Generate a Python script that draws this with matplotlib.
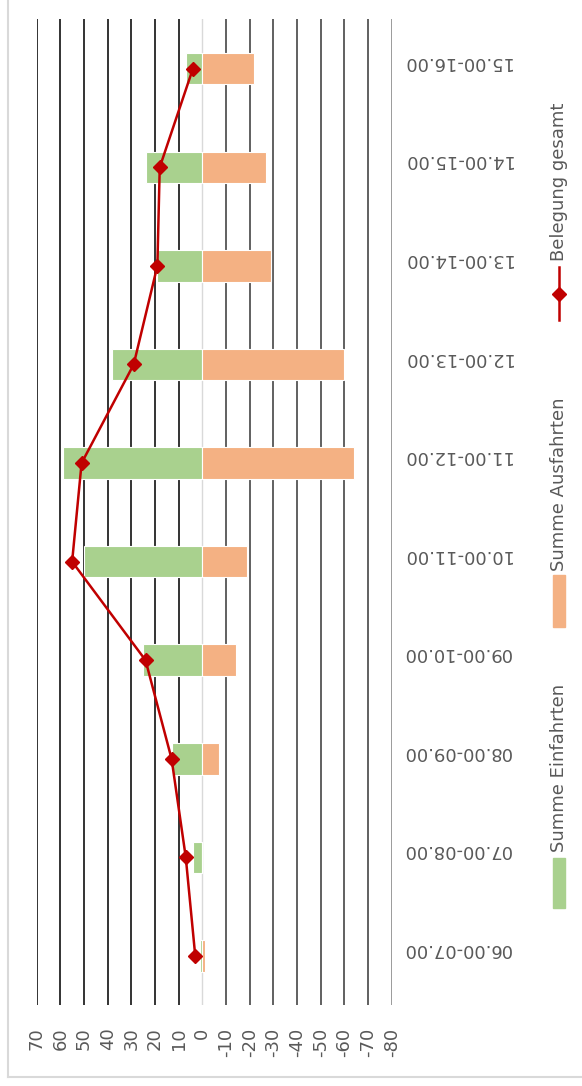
import numpy as np
import matplotlib
matplotlib.use("Agg")
import matplotlib.pyplot as plt
from matplotlib.lines import Line2D
from matplotlib.patches import Rectangle
from matplotlib.transforms import blended_transform_factory, ScaledTranslation

# data (chart is shown rotated: categories run bottom -> top)
zeiten = ["06.00-07.00", "07.00-08.00", "08.00-09.00", "09.00-10.00", "10.00-11.00",
          "11.00-12.00", "12.00-13.00", "13.00-14.00", "14.00-15.00", "15.00-16.00"]
einfahrten = [1, 4, 13, 25, 50, 59, 38, 19, 24, 7]
ausfahrten = [-1, 0, -7, -14, -19, -64, -60, -29, -27, -22]
belegung = [3, 7, 13, 24, 55, 51, 29, 19, 18, 4]
werte_ticks = list(range(-80, 71, 10))

W, H = 582, 1086
green = "#A9D18E"
orange = "#F4B183"
red = "#C00000"
txt = "#595959"

fig = plt.figure(figsize=(W / 100, H / 100), dpi=100)
ax = fig.add_axes([36.6 / W, 1 - 1005.3 / H, (391.8 - 36.6) / W, (1005.3 - 19.4) / H])

idx = np.arange(len(zeiten))

# gridlines
for t in werte_ticks:
    if t == 0:
        c, lw = "#d9d9d9", 1.0
    elif t > 0:
        c, lw = "#111111", 1.2
    elif t == -80:
        c, lw = "#8a8a8a", 1.2
    else:
        c, lw = "#606060", 1.4
    ax.axvline(t, color=c, lw=lw, zorder=0)

ax.barh(idx, einfahrten, height=0.32, color=green, edgecolor="white", lw=0.8, zorder=2)
ax.barh(idx, ausfahrten, height=0.32, color=orange, edgecolor="white", lw=0.8, zorder=2)
ax.plot(belegung, idx, color=red, lw=1.8, marker="D", ms=6.8, zorder=3)

ax.set_xlim(70, -80)
ax.set_ylim(-0.5, len(zeiten) - 0.5)
for s in ax.spines.values():
    s.set_visible(False)

ax.set_xticks(werte_ticks)
ax.set_xticklabels([str(t) for t in werte_ticks], rotation=90, fontsize=13, color=txt)
ax.tick_params(axis="x", length=0, pad=16)

# category labels, upside down, right of the plot
ax.set_yticks([])
tr = blended_transform_factory(ax.transAxes, ax.transData) + \
    ScaledTranslation(0, 5 / 72, fig.dpi_scale_trans)
for i, z in enumerate(zeiten):
    ax.text(1 + 11 / (391.8 - 36.6), i, z, transform=tr, rotation=180,
            ha="left", va="center", fontsize=13, color=txt)

# legend (rotated, drawn by hand)
lx = 559
fig.add_artist(Rectangle(((lx - 6.3) / W, 1 - 908 / H), 12.6 / W, 50 / H,
                         transform=fig.transFigure, color=green))
fig.text(lx / W, 1 - 852 / H, "Summe Einfahrten", rotation=90, ha="center", va="bottom",
         fontsize=13, color=txt)
fig.add_artist(Rectangle(((lx - 6.3) / W, 1 - 627 / H), 12.6 / W, 52 / H,
                         transform=fig.transFigure, color=orange))
fig.text(lx / W, 1 - 571 / H, "Summe Ausfahrten", rotation=90, ha="center", va="bottom",
         fontsize=13, color=txt)
fig.add_artist(Line2D([lx / W, lx / W], [1 - 320 / H, 1 - 267 / H], transform=fig.transFigure,
                      color=red, lw=1.8))
fig.add_artist(Line2D([lx / W], [1 - 293.5 / H], transform=fig.transFigure,
                      color=red, marker="D", ms=6.8))
fig.text(lx / W, 1 - 261 / H, "Belegung gesamt", rotation=90, ha="center", va="bottom",
         fontsize=13, color=txt)

# chart frame
fig.add_artist(Line2D([8 / W, 8 / W], [1 - 1077 / H, 1], transform=fig.transFigure,
                      color="#d9d9d9", lw=1.5))
fig.add_artist(Line2D([8 / W, 1], [1 - 1077 / H, 1 - 1077 / H], transform=fig.transFigure,
                      color="#d9d9d9", lw=1.5))

fig.savefig("out.png", dpi=100)
